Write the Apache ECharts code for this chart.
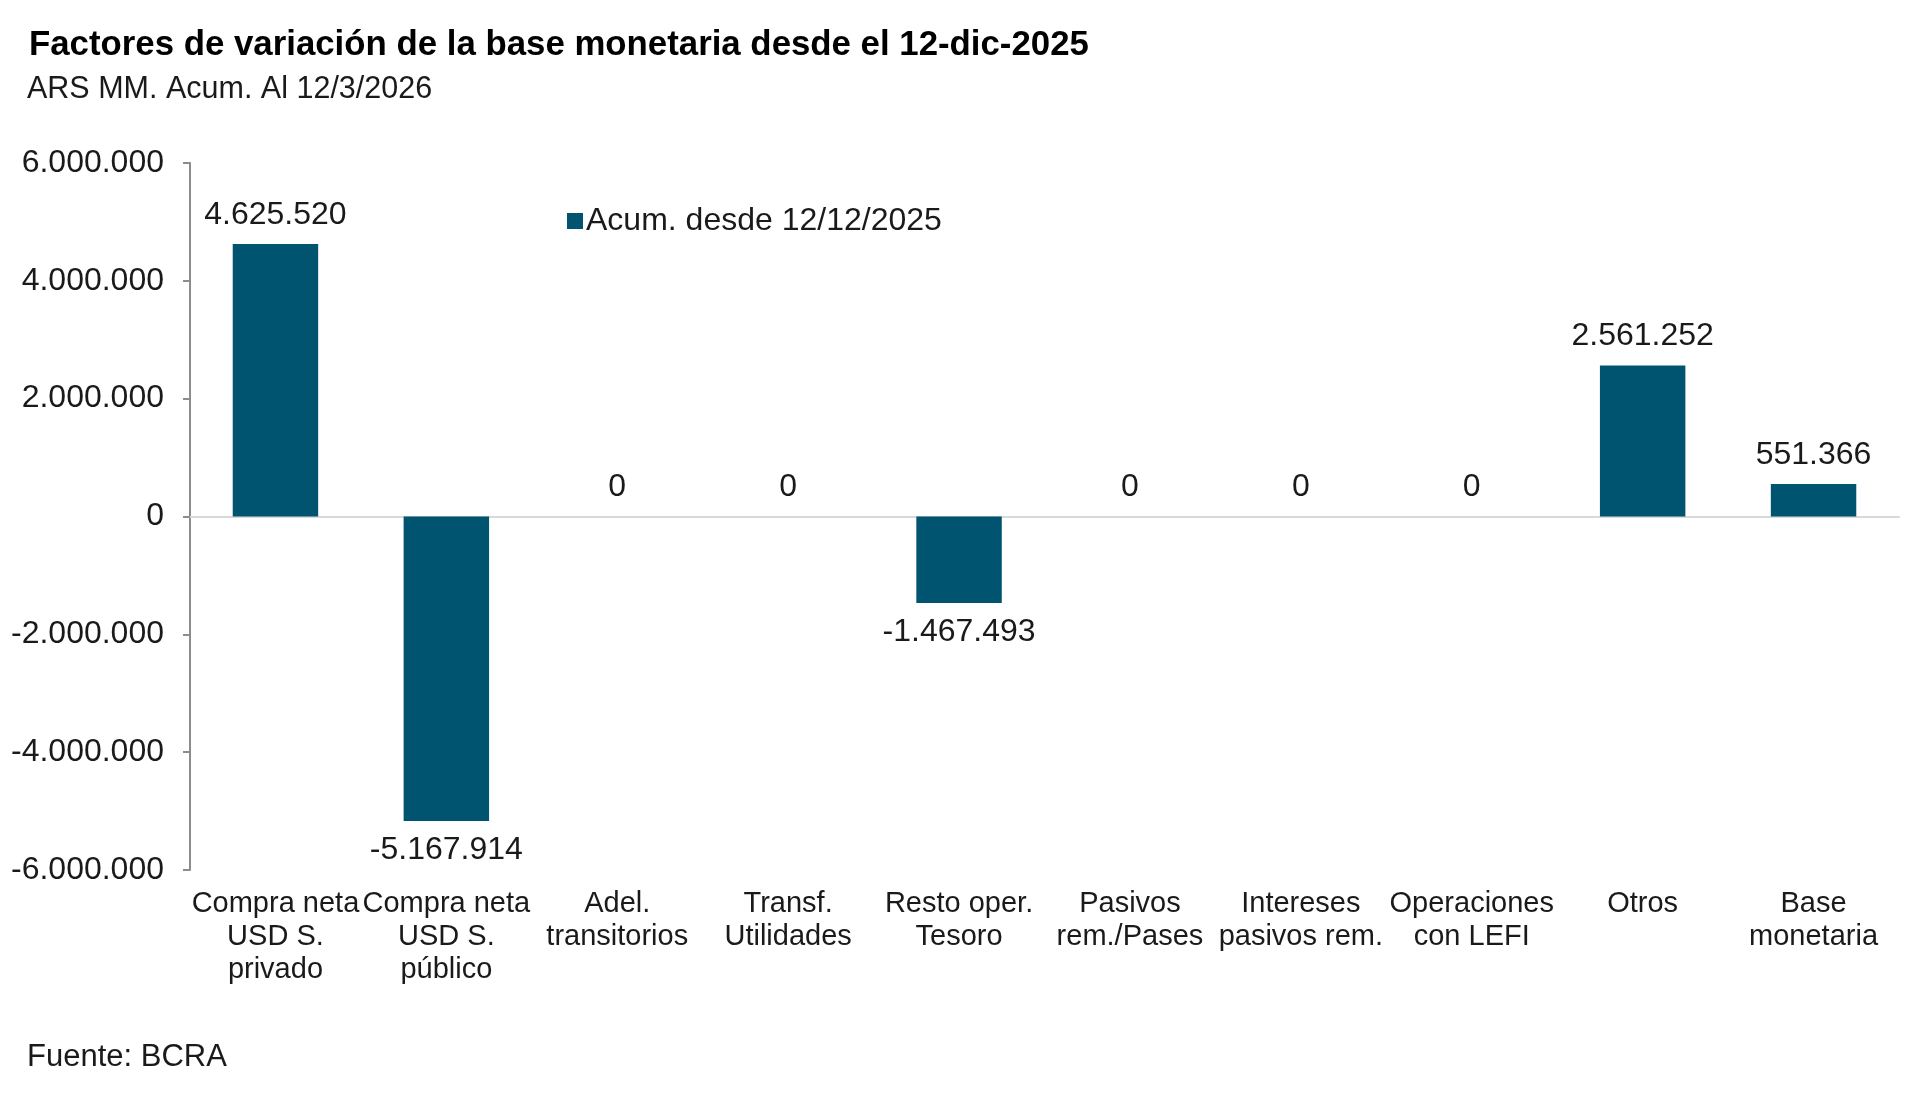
<!DOCTYPE html>
<html>
<head>
<meta charset="utf-8">
<script src="https://cdn.jsdelivr.net/npm/echarts@6/dist/echarts.min.js"></script>
<style>html,body{margin:0;padding:0;background:#fff;}#chart{width:1920px;height:1096px;}</style>
</head>
<body>
<div id="chart"></div>
<script>
const categories = [
  "Compra neta\nUSD S.\nprivado",
  "Compra neta\nUSD S.\npúblico",
  "Adel.\ntransitorios",
  "Transf.\nUtilidades",
  "Resto oper.\nTesoro",
  "Pasivos\nrem./Pases",
  "Intereses\npasivos rem.",
  "Operaciones\ncon LEFI",
  "Otros",
  "Base\nmonetaria"
];
const seriesName = "Acum. desde 12/12/2025";
const values = [4625520, -5167914, 0, 0, -1467493, 0, 0, 0, 2561252, 551366];
const yTicks = { min: -6000000, max: 6000000, interval: 2000000 };

function fmt(v) {
  const neg = v < 0;
  const s = Math.abs(Math.round(v)).toString().replace(/\B(?=(\d{3})+(?!\d))/g, ".");
  return (neg ? "-" : "") + s;
}

const FONT = "Liberation Sans, Arial, sans-serif";
const chart = echarts.init(document.getElementById('chart'));
chart.setOption({
  backgroundColor: '#ffffff',
  animation: false,
  textStyle: { fontFamily: FONT },
  title: [
    { text: "Factores de variación de la base monetaria desde el 12-dic-2025", left: 29, top: 28, padding: 0,
      textStyle: { fontFamily: FONT, fontSize: 34.8, fontWeight: 'bold', color: '#000', lineHeight: 35 } },
    { text: "ARS MM. Acum. Al 12/3/2026", left: 27, top: 74, padding: 0,
      textStyle: { fontFamily: FONT, fontSize: 30.5, fontWeight: 'normal', color: '#1a1a1a', lineHeight: 31 } },
    { text: "Fuente: BCRA", left: 27, top: 1042, padding: 0,
      textStyle: { fontFamily: FONT, fontSize: 31, fontWeight: 'normal', color: '#1a1a1a', lineHeight: 31 } }
  ],
  legend: {
    data: [seriesName], left: 567, top: 205, padding: 0, icon: 'rect', itemWidth: 16, itemHeight: 16, itemGap: 4,
    textStyle: { fontFamily: FONT, fontSize: 32, color: '#1a1a1a', padding: [0, 0, 0, -2] }
  },
  grid: { left: 190, right: 21, top: 163, bottom: 226, containLabel: false },
  xAxis: [
    { type: 'category', data: categories, axisLine: { onZero: true, lineStyle: { color: '#d9d9d9', width: 2 } },
      axisTick: { show: false }, axisLabel: { show: false } },
    { type: 'category', data: categories, position: 'bottom', axisLine: { show: false, onZero: false },
      axisTick: { show: false },
      axisLabel: { interval: 0, margin: 17, fontSize: 29, lineHeight: 33, color: '#1a1a1a', fontFamily: FONT, hideOverlap: false } }
  ],
  yAxis: {
    type: 'value', min: yTicks.min, max: yTicks.max, interval: yTicks.interval,
    axisLine: { show: true, lineStyle: { color: '#8c8c8c', width: 2 } },
    axisTick: { show: true, length: 7, lineStyle: { color: '#8c8c8c', width: 2 } },
    splitLine: { show: false },
    axisLabel: { margin: 26, fontSize: 32, color: '#1a1a1a', fontFamily: FONT, formatter: fmt }
  },
  series: [{
    name: seriesName, type: 'bar', xAxisIndex: 0, barWidth: '50%',
    itemStyle: { color: '#005470' },
    data: values.map(v => ({ value: v, label: { position: v < 0 ? 'bottom' : 'top' } })),
    label: { show: true, distance: 13, fontSize: 32, color: '#1a1a1a', fontFamily: FONT,
      formatter: p => fmt(p.value) }
  }]
});
</script>
</body>
</html>
